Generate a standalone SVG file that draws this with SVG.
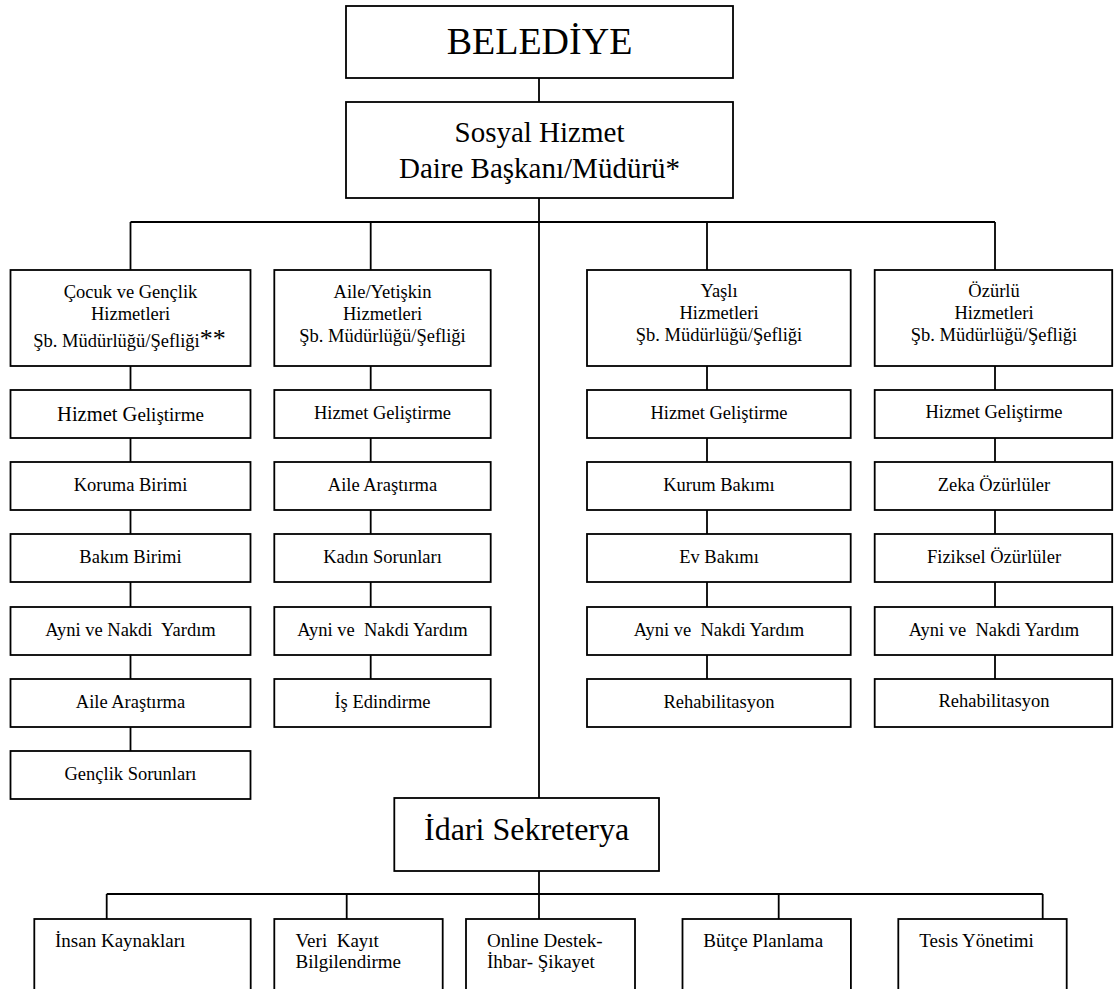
<svg xmlns="http://www.w3.org/2000/svg" width="1114" height="989" viewBox="0 0 1114 989">
<style>
  .box { fill: #ffffff; stroke: #000000; stroke-width: 1.8; }
  .ln { fill: none; stroke: #000000; stroke-width: 1.8; }
  text { fill: #000000; white-space: pre; }
  .c { text-anchor: middle; }
  .h { font-size: 18.5px; }
  .s { font-size: 18.5px; }
  .b { font-size: 19px; }
</style>
<rect x="0" y="0" width="1114" height="989" fill="#ffffff"/>
<g id="connectors">
  <line class="ln" x1="539" y1="78" x2="539" y2="919"/>
  <line class="ln" x1="130.5" y1="222" x2="995" y2="222"/>
  <line class="ln" x1="130.5" y1="222" x2="130.5" y2="751"/>
  <line class="ln" x1="370.7" y1="222" x2="370.7" y2="679"/>
  <line class="ln" x1="707" y1="222" x2="707" y2="679"/>
  <line class="ln" x1="995" y1="222" x2="995" y2="679"/>
  <line class="ln" x1="106.7" y1="894" x2="1042.7" y2="894"/>
  <line class="ln" x1="106.7" y1="894" x2="106.7" y2="919"/>
  <line class="ln" x1="346.7" y1="894" x2="346.7" y2="919"/>
  <line class="ln" x1="778.7" y1="894" x2="778.7" y2="919"/>
  <line class="ln" x1="1042.7" y1="894" x2="1042.7" y2="919"/>
</g>
<g font-family="Liberation Serif, Tinos, Times New Roman, DejaVu Serif, Noto Serif, FreeSerif, serif">
<g id="belediye">
  <rect class="box" x="346" y="6" width="387" height="72"/>
  <text class="c" x="539.5" y="53.5" font-size="38">BELEDİYE</text>
</g>
<g id="sosyal-hizmet">
  <rect class="box" x="346" y="102" width="387" height="96"/>
  <text class="c" x="539.5" y="141.5" font-size="29">Sosyal Hizmet</text>
  <text class="c" x="539.5" y="178" font-size="29">Daire Başkanı/Müdürü*</text>
</g>
<g id="cocuk-genclik">
  <rect class="box" x="10.5" y="270" width="240" height="96"/>
  <text class="c h" x="130.5" y="298">Çocuk ve Gençlik</text>
  <text class="c h" x="130.5" y="319.5">Hizmetleri</text>
  <text class="c h" x="129.5" y="346.5">Şb. Müdürlüğü/Şefliği<tspan font-size="26">**</tspan></text>
</g>
<g id="aile-yetiskin">
  <rect class="box" x="274.3" y="270" width="216.4" height="96"/>
  <text class="c h" x="382.5" y="298">Aile/Yetişkin</text>
  <text class="c h" x="382.5" y="319.5">Hizmetleri</text>
  <text class="c h" x="382.5" y="341.5">Şb. Müdürlüğü/Şefliği</text>
</g>
<g id="yasli">
  <rect class="box" x="587" y="270" width="263.7" height="96"/>
  <text class="c h" x="719" y="297">Yaşlı</text>
  <text class="c h" x="719" y="318.5">Hizmetleri</text>
  <text class="c h" x="719" y="340.5">Şb. Müdürlüğü/Şefliği</text>
</g>
<g id="ozurlu">
  <rect class="box" x="874.7" y="270" width="237.5" height="96"/>
  <text class="c h" x="994" y="297">Özürlü</text>
  <text class="c h" x="994" y="318.5">Hizmetleri</text>
  <text class="c h" x="994" y="340.5">Şb. Müdürlüğü/Şefliği</text>
</g>
<g id="c1-hizmet-gelistirme">
  <rect class="box" x="10.5" y="390" width="240" height="48"/>
  <text class="c" x="130.5" y="421" font-size="20.5">Hizmet G<tspan font-size="19">eliştirme</tspan></text>
</g>
<g id="c1-koruma">
  <rect class="box" x="10.5" y="462" width="240" height="48"/>
  <text class="c s" x="130.5" y="491">Koruma Birimi</text>
</g>
<g id="c1-bakim">
  <rect class="box" x="10.5" y="534" width="240" height="48"/>
  <text class="c s" x="130.5" y="563">Bakım Birimi</text>
</g>
<g id="c1-ayni-nakdi">
  <rect class="box" x="10.5" y="607" width="240" height="48"/>
  <text class="c s" x="130.5" y="636" xml:space="preserve">Ayni ve Nakdi  Yardım</text>
</g>
<g id="c1-aile-arastirma">
  <rect class="box" x="10.5" y="679" width="240" height="48"/>
  <text class="c s" x="130.5" y="708">Aile Araştırma</text>
</g>
<g id="c1-genclik">
  <rect class="box" x="10.5" y="751" width="240" height="48"/>
  <text class="c s" x="130.5" y="780">Gençlik Sorunları</text>
</g>
<g id="c2-hizmet-gelistirme">
  <rect class="box" x="274.3" y="390" width="216.4" height="48"/>
  <text class="c s" x="382.5" y="418.5">Hizmet Geliştirme</text>
</g>
<g id="c2-aile-arastirma">
  <rect class="box" x="274.3" y="462" width="216.4" height="48"/>
  <text class="c s" x="382.5" y="491">Aile Araştırma</text>
</g>
<g id="c2-kadin">
  <rect class="box" x="274.3" y="534" width="216.4" height="48"/>
  <text class="c s" x="382.5" y="563">Kadın Sorunları</text>
</g>
<g id="c2-ayni-nakdi">
  <rect class="box" x="274.3" y="607" width="216.4" height="48"/>
  <text class="c s" x="382.5" y="636" xml:space="preserve">Ayni ve  Nakdi Yardım</text>
</g>
<g id="c2-is-edindirme">
  <rect class="box" x="274.3" y="679" width="216.4" height="48"/>
  <text class="c s" x="382.5" y="708">İş Edindirme</text>
</g>
<g id="c3-hizmet-gelistirme">
  <rect class="box" x="587" y="390" width="263.7" height="48"/>
  <text class="c s" x="719" y="418.5">Hizmet Geliştirme</text>
</g>
<g id="c3-kurum-bakimi">
  <rect class="box" x="587" y="462" width="263.7" height="48"/>
  <text class="c s" x="719" y="491">Kurum Bakımı</text>
</g>
<g id="c3-ev-bakimi">
  <rect class="box" x="587" y="534" width="263.7" height="48"/>
  <text class="c s" x="719" y="563">Ev Bakımı</text>
</g>
<g id="c3-ayni-nakdi">
  <rect class="box" x="587" y="607" width="263.7" height="48"/>
  <text class="c s" x="719" y="636" xml:space="preserve">Ayni ve  Nakdi Yardım</text>
</g>
<g id="c3-rehabilitasyon">
  <rect class="box" x="587" y="679" width="263.7" height="48"/>
  <text class="c s" x="719" y="708">Rehabilitasyon</text>
</g>
<g id="c4-hizmet-gelistirme">
  <rect class="box" x="874.7" y="390" width="237.5" height="48"/>
  <text class="c s" x="994" y="418">Hizmet Geliştirme</text>
</g>
<g id="c4-zeka">
  <rect class="box" x="874.7" y="462" width="237.5" height="48"/>
  <text class="c s" x="994" y="491">Zeka Özürlüler</text>
</g>
<g id="c4-fiziksel">
  <rect class="box" x="874.7" y="534" width="237.5" height="48"/>
  <text class="c s" x="994" y="563">Fiziksel Özürlüler</text>
</g>
<g id="c4-ayni-nakdi">
  <rect class="box" x="874.7" y="607" width="237.5" height="48"/>
  <text class="c s" x="994" y="636" xml:space="preserve">Ayni ve  Nakdi Yardım</text>
</g>
<g id="c4-rehabilitasyon">
  <rect class="box" x="874.7" y="679" width="237.5" height="48"/>
  <text class="c s" x="994" y="707">Rehabilitasyon</text>
</g>
<g id="idari-sekreterya">
  <rect class="box" x="394.3" y="798" width="264.7" height="73"/>
  <text class="c" x="526.6" y="839.5" font-size="32">İdari Sekreterya</text>
</g>
<g id="insan-kaynaklari">
  <rect class="box" x="34.3" y="919" width="216.4" height="80"/>
  <text class="b" x="55" y="946.5">İnsan Kaynakları</text>
</g>
<g id="veri-kayit">
  <rect class="box" x="274.3" y="919" width="168.4" height="80"/>
  <text class="b" x="295.5" y="946.5" xml:space="preserve">Veri  Kayıt</text>
  <text class="b" x="295.5" y="968">Bilgilendirme</text>
</g>
<g id="online-destek">
  <rect class="box" x="466" y="919" width="169" height="80"/>
  <text class="b" x="487" y="946.5">Online Destek-</text>
  <text class="b" x="487" y="968">İhbar- Şikayet</text>
</g>
<g id="butce-planlama">
  <rect class="box" x="682.5" y="919" width="168.4" height="80"/>
  <text class="b" x="703.3" y="946.5">Bütçe Planlama</text>
</g>
<g id="tesis-yonetimi">
  <rect class="box" x="898.3" y="919" width="168.4" height="80"/>
  <text class="b" x="919.3" y="946.5">Tesis Yönetimi</text>
</g>
</g>
</svg>
